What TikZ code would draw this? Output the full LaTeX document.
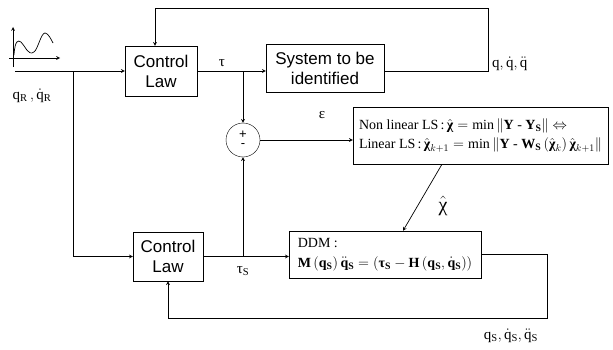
\documentclass[tikz,border=0pt]{standalone}
\usepackage{amsmath}
\usepackage{fontspec}
\setmainfont{Liberation Serif}
\newfontfamily\arialfont{Liberation Sans}
\usetikzlibrary{positioning}
\usetikzlibrary{shapes.geometric, arrows}
\newcommand{\bchi}{\text{\bfseries χ}}
\newcommand{\btau}{\text{\bfseries τ}}
\tikzstyle{block} = [rectangle, 
minimum width=72pt, 
minimum height=50pt,
text centered, 
draw=black,
align=center,
font=\arialfont\fontsize{17}{20}\selectfont]
\tikzstyle{formula} = [rectangle, 
draw=black,
align=left,
inner sep=2pt,
font=\fontsize{14}{16}\selectfont]
\tikzstyle{summer} = [circle, 
minimum size=34pt, 
inner sep=0pt,
draw=black]
\tikzstyle{lbl} = [inner sep=1pt, font=\fontsize{15}{17}\selectfont]
\tikzstyle{sign} = [inner sep=0pt, font=\arialfont\fontsize{13}{14}\selectfont]
\tikzstyle{arrow} = [line width=0.7pt,->,>=stealth]
\tikzstyle{wire} = [line width=0.7pt]

\begin{document}
\begin{tikzpicture}[x=1pt, y=1pt, node distance=82pt]
            \useasboundingbox (0,0) rectangle (613,349);
            \node (ctrl1) [block] at (161,278) {Control\\ Law};
            \node (sys) [block, minimum width=118pt, minimum height=48pt, right of=ctrl1, xshift=82pt, yshift=3pt] {System to be\\ identified};
            \node (sum) [summer, below of=ctrl1, xshift=82pt, yshift=13pt] {};
            \node (plus) [sign, above=1pt of sum.center] {+};
            \node (minus) [sign, below=3pt of sum.center] {-};
            \node (ls) [formula, minimum width=255pt, minimum height=57pt, right of=sum, xshift=155.5pt, yshift=4.5pt] {Non linear LS\,:\,$\hat{\bchi} = \mathrm{min}\left\|\mathbf{Y}\text{ - }\mathbf{Y}_{\mathbf{S}}\right\|\Leftrightarrow$\\[3pt]
            Linear LS\,:\,$\hat{\bchi}_{k+1} = \mathrm{min}\left\|\mathbf{Y}\text{ - }\mathbf{W}_{\mathbf{S}}\left(\hat{\bchi}_{k}\right)\hat{\bchi}_{k+1}\right\|$};
            \node (ctrl2) [block, minimum width=70pt, minimum height=49pt, below of=ctrl1, xshift=7pt, yshift=-103.5pt] {Control\\ Law};
            \node (ddm) [formula, minimum width=192pt, minimum height=47pt, right of=ctrl2, xshift=135pt, yshift=2pt] {DDM :\\[4pt]
            $\mathbf{M}\left(\mathbf{q}_{\mathbf{S}}\right)\ddot{\mathbf{q}}_{\mathbf{S}} = \left(\btau_{\mathbf{S}} - \mathbf{H}\left(\mathbf{q}_{\mathbf{S}},\dot{\mathbf{q}}_{\mathbf{S}}\right)\right)$};

            % reference signal
            \draw [arrow] (9,291) -- (60,291);
            \draw [arrow] (13,282) -- (13,322);
            \draw [wire] (14,294) .. controls (15,309) and (18,309) .. (21,307)
                .. controls (26,302) and (28,293) .. (34,297)
                .. controls (38,300) and (41,316) .. (45,316)
                .. controls (48,316) and (51,310) .. (53,306);

            \coordinate (in) at (15,278);
            \coordinate (br) at (73,278);
            \coordinate (jt) at (sum |- ctrl1.east);
            \coordinate (js) at (sum |- ctrl2.east);
            \coordinate (fb) at (488,341);
            \coordinate (fs) at (547,31);

            \draw [arrow] (in) -- (ctrl1.west);
            \draw [arrow] (br) |- (ctrl2.west);
            \draw [arrow] (ctrl1.east) -- (ctrl1.east -| sys.west);
            \draw [arrow] (jt) -- (sum.north);
            \draw [arrow] (sys.east |- ctrl1.east) -| (fb) -| ([xshift=-6pt]ctrl1.north);
            \draw [arrow] (sum.east) -- (sum.east -| ls.west);
            \draw [arrow] ([xshift=-38.5pt]ls.south) -- ([xshift=18pt]ddm.north);
            \draw [arrow] (ctrl2.east) -- (ctrl2.east -| ddm.west);
            \draw [arrow] (js) -- (sum.south);
            \draw [arrow] (ddm.east) -| (fs) -| (ctrl2.south);

            \node (lqr) [lbl] at (32,253) {$\mathrm{q}_{\mathrm{R}}\,,\dot{\mathrm{q}}_{\mathrm{R}}$};
            \node (ltau) [lbl] at (222,286) {τ};
            \node (lq) [lbl, anchor=west] at (491,285) {$\mathrm{q},\dot{\mathrm{q}},\ddot{\mathrm{q}}$};
            \node (leps) [lbl] at (322,234) {ε};
            \node (lchi) [lbl, font=\fontsize{20}{22}\selectfont] at (443,143) {$\hat{\text{χ}}$};
            \node (ltaus) [lbl] at (243,78) {τ$_{\mathrm{S}}$};
            \node (lqs) [lbl] at (511,13) {$\mathrm{q}_{\mathrm{S}},\dot{\mathrm{q}}_{\mathrm{S}},\ddot{\mathrm{q}}_{\mathrm{S}}$};
        \end{tikzpicture}
\end{document}
